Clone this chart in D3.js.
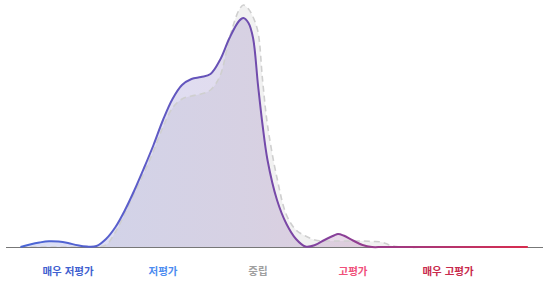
<!DOCTYPE html>
<html lang="ko">
<head>
<meta charset="UTF-8">
<title>평가 분포</title>
<script src="https://d3js.org/d3.v7.min.js"></script>
<style>
  body { margin: 0; background: #fff; }
  #chart svg { display: block; }
</style>
</head>
<body>
<div id="chart"></div>
<script>
// score grid (neutral = 0, one category step = 0.5)
const scores = [-1.25, -1.2, -1.15, -1.1, -1.05, -1.0, -0.95, -0.9, -0.85, -0.8, -0.75, -0.7,
  -0.65, -0.6, -0.55, -0.5, -0.45, -0.4, -0.35, -0.3, -0.25, -0.2, -0.15, -0.1, -0.077,
  -0.05, -0.026, 0.0, 0.024, 0.05, 0.1, 0.15, 0.2, 0.25, 0.3, 0.35, 0.4, 0.421, 0.45, 0.5,
  0.55, 0.6, 0.65, 0.7, 0.75, 1.0, 1.42];

// current density (solid coloured line)
const current = [0, 0.025, 0.045, 0.058, 0.055, 0.04, 0.017, 0.004, 0.01, 0.08, 0.2, 0.37,
  0.57, 0.79, 1.02, 1.27, 1.48, 1.62, 1.68, 1.7, 1.73, 1.87, 2.09, 2.26, 2.29,
  2.24, 2.09, 1.62, 1.22, 0.87, 0.47, 0.23, 0.08, 0.005, 0.02, 0.07, 0.115, 0.13, 0.115, 0.065,
  0.02, 0.0, 0, 0, 0, 0, 0];

// reference density (grey dashed line)
const reference = [0, 0, 0, 0, 0, 0, 0, 0, 0, 0.02, 0.15, 0.34,
  0.54, 0.74, 0.96, 1.2, 1.39, 1.48, 1.51, 1.53, 1.57, 1.71, 2.09, 2.37, 2.42,
  2.38, 2.30, 2.15, 1.67, 1.22, 0.69, 0.32, 0.17, 0.11, 0.07, 0.06, 0.06, 0.06, 0.06, 0.06,
  0.06, 0.055, 0.05, 0.015, 0, 0, 0];

const labels = ["매우 저평가", "저평가", "중립", "고평가", "매우 고평가"];
const labelScores = [-1, -0.5, 0, 0.5, 1];
const labelColors = ["#3f61d0", "#4d8cf0", "#a0a0a0", "#f0507a", "#c82a4c"];

const width = 547, height = 295;
const svg = d3.select("#chart").append("svg")
  .attr("width", width)
  .attr("height", height);

const x = d3.scaleLinear().domain([0, 0.5]).range([258, 353]);
const y = d3.scaleLinear()
  .domain([0, d3.max(reference)])
  .range([247, 5]);

const defs = svg.append("defs");
const [x0, x1] = d3.extent(scores).map(x);

const strokeGrad = defs.append("linearGradient")
  .attr("id", "strokeGrad")
  .attr("gradientUnits", "userSpaceOnUse")
  .attr("x1", x0).attr("x2", x1).attr("y1", 0).attr("y2", 0);
[[0, "#4a66d6"], [0.2, "#5a5fcc"], [0.42, "#6a4fb2"], [0.62, "#88409a"], [0.8, "#ac3675"], [1, "#d82c4e"]]
  .forEach(([o, c]) => strokeGrad.append("stop").attr("offset", o).attr("stop-color", c));

const fillGrad = defs.append("linearGradient")
  .attr("id", "fillGrad")
  .attr("gradientUnits", "userSpaceOnUse")
  .attr("x1", x0).attr("x2", x1).attr("y1", 0).attr("y2", 0);
[[0, "#5a6ed8", 0.22], [0.45, "#7a5fb0", 0.22], [1, "#d03a70", 0.22]]
  .forEach(([o, c, a]) => fillGrad.append("stop").attr("offset", o).attr("stop-color", c).attr("stop-opacity", a));

const pts = (vals) => scores.map((s, i) => [s, Math.max(0, vals[i])]);
const curve = d3.curveCatmullRom.alpha(0.5);

const area = d3.area()
  .x(d => x(d[0]))
  .y0(y(0))
  .y1(d => Math.min(y(0), y(d[1])))
  .curve(curve);

const line = d3.line()
  .x(d => x(d[0]))
  .y(d => y(d[1]))
  .curve(curve);

// reference fill
svg.append("path")
  .attr("d", area(pts(reference)))
  .attr("fill", "#f1f1f1");

// current fill
svg.append("path")
  .attr("d", area(pts(current)))
  .attr("fill", "url(#fillGrad)");

// reference dashed line
svg.append("path")
  .attr("d", line(pts(reference)))
  .attr("fill", "none")
  .attr("stroke", "#cfcfcf")
  .attr("stroke-width", 1.6)
  .attr("stroke-dasharray", "6,4");

// baseline
svg.append("line")
  .attr("x1", 6).attr("x2", 543)
  .attr("y1", y(0) + 0.5).attr("y2", y(0) + 0.5)
  .attr("stroke", "#777")
  .attr("stroke-width", 1.2);

// current line
svg.append("path")
  .attr("d", line(pts(current)))
  .attr("fill", "none")
  .attr("stroke", "url(#strokeGrad)")
  .attr("stroke-width", 2);

// category labels
svg.selectAll("text.cat")
  .data(labels)
  .enter().append("text")
  .attr("class", "cat")
  .attr("x", (d, i) => x(labelScores[i]))
  .attr("y", 275)
  .attr("text-anchor", "middle")
  .attr("fill", (d, i) => labelColors[i])
  .style("font-family", "'Noto Sans CJK KR', 'Noto Sans', sans-serif")
  .style("font-weight", "bold")
  .style("font-size", "10.5px")
  .text(d => d);
</script>
</body>
</html>
